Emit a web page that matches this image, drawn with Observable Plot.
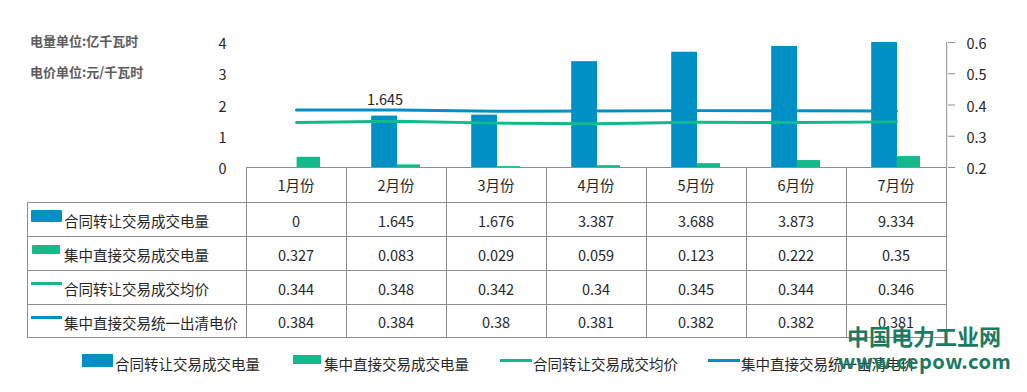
<!DOCTYPE html>
<html>
<head>
<meta charset="utf-8">
<script src="https://cdn.jsdelivr.net/npm/d3@7"></script>
<script src="https://cdn.jsdelivr.net/npm/@observablehq/plot@0.6"></script>
<style>
  html, body { margin: 0; padding: 0; background: #fff; }
  #wrap { position: relative; width: 1027px; height: 392px; overflow: hidden; font-family: "Noto Sans CJK SC", "Noto Sans", sans-serif; color: #262626; }
  #chart { position: absolute; left: 0; top: 0; }
  .abs { position: absolute; white-space: nowrap; }
  .hl { position: absolute; height: 1px; background: #8e8e8e; }
  .vl { position: absolute; width: 1px; background: #8e8e8e; }
  .cell { position: absolute; display: flex; align-items: center; justify-content: center; font-size: 14.5px; line-height: 1; }
  .unit { position: absolute; left: 30px; font-size: 13px; font-weight: bold; color: #5c5c5c; line-height: 1; }
  .lbl { position: absolute; font-size: 14.5px; line-height: 1; white-space: nowrap; }
  .wm1 { position: absolute; left: 847px; top: 324px; font-size: 22px; font-weight: bold; color: #1b7a62; line-height: 1; white-space: nowrap; }
  .wm2 { position: absolute; left: 838px; top: 351px; font-size: 20px; font-weight: bold; color: #1b7a62; line-height: 1; white-space: nowrap; letter-spacing: 0.5px; }
</style>
</head>
<body>
<div id="wrap">
  <div id="chart"></div>
</div>
<script>
// ---- data ----
const months = ["1月份", "2月份", "3月份", "4月份", "5月份", "6月份", "7月份"];
const contractVolume = [0, 1.645, 1.676, 3.387, 3.688, 3.873, 9.334];
const centralVolume = [0.327, 0.083, 0.029, 0.059, 0.123, 0.222, 0.35];
const contractPrice = [0.344, 0.348, 0.342, 0.34, 0.345, 0.344, 0.346];
const clearingPrice = [0.384, 0.384, 0.38, 0.381, 0.382, 0.382, 0.381];
const seriesNames = ["合同转让交易成交电量", "集中直接交易成交电量", "合同转让交易成交均价", "集中直接交易统一出清电价"];
const leftTicks = [0, 1, 2, 3, 4];
const rightTicks = [0.2, 0.3, 0.4, 0.5, 0.6];
const unitLabels = ["电量单位:亿千瓦时", "电价单位:元/千瓦时"];
const watermark = ["中国电力工业网", "www.cepow.com"];
const labelledMonth = "2月份";

const BLUE = "#0090c5";
const GREEN = "#12b98a";
const GREY = "#8e8e8e";

// map price (right axis) onto left-axis units
const pMin = rightTicks[0], pMax = rightTicks[rightTicks.length - 1];
const lMax = leftTicks[leftTicks.length - 1];
const toLeft = p => (p - pMin) / (pMax - pMin) * lMax;

const rows = months.map((m, i) => ({
  month: m,
  contract: contractVolume[i],
  central: centralVolume[i],
  cPrice: contractPrice[i],
  clPrice: clearingPrice[i]
}));

const chart = Plot.plot({
  width: 1027,
  height: 180,
  marginTop: 42,
  marginBottom: 13,
  marginLeft: 244,
  marginRight: 80,
  style: { fontFamily: "'Noto Sans CJK SC', 'Noto Sans', sans-serif", fontSize: "14.5px", color: "#262626", background: "transparent", overflow: "visible" },
  x: { type: "band", domain: months, padding: 0, axis: null },
  y: { domain: [0, lMax], axis: null },
  marks: [
    Plot.barY(rows, { x: "month", y: "contract", fill: BLUE, insetLeft: 25.2, insetRight: 49, clip: true }),
    Plot.barY(rows, { x: "month", y: "central", fill: GREEN, insetLeft: 50.6, insetRight: 26 }),
    Plot.line(rows, { x: "month", y: d => toLeft(d.clPrice), stroke: BLUE, strokeWidth: 3 }),
    Plot.line(rows, { x: "month", y: d => toLeft(d.cPrice), stroke: GREEN, strokeWidth: 3 }),
    Plot.text(rows.filter(d => d.month === labelledMonth), { x: "month", y: "contract", text: d => String(d.contract), dx: -11.5, dy: -16, fill: "#262626" }),
    Plot.axisY({ anchor: "left", ticks: leftTicks, tickSize: 0, tickPadding: 18, fill: "#262626", dy: 2,
      tickFormat: t => String(t) }),
    Plot.axisY({ anchor: "right", ticks: leftTicks, tickSize: 7, stroke: GREY, text: null }),
    Plot.axisY({ anchor: "right", ticks: leftTicks, tickSize: 0, tickPadding: 19, fill: "#262626", dy: 2,
      tickFormat: t => String(rightTicks[leftTicks.indexOf(t)]) }),
    Plot.ruleX([months[months.length - 1]], { dx: (1027 - 244 - 80) / months.length / 2, stroke: GREY, strokeWidth: 1 })
  ]
});
document.getElementById("chart").appendChild(chart);

// ---- table beneath, aligned on the Plot x scale ----
const wrap = document.getElementById("wrap");
const xs = chart.scale("x");
const bw = xs.bandwidth;
const x0 = xs.apply(months[0]);
const xEnd = xs.apply(months[months.length - 1]) + bw;
const tableLeft = 27;
const yTop = 167;
const rowY = [167, 202, 236, 270, 304, 337];

function add(cls, style, text) {
  const d = document.createElement("div");
  d.className = cls;
  Object.assign(d.style, style);
  if (text != null) d.textContent = text;
  wrap.appendChild(d);
  return d;
}

// horizontal lines
rowY.forEach((y, i) => {
  const left = i === 0 ? Math.round(x0) : tableLeft;
  add("hl", { left: left + "px", top: y + "px", width: (Math.round(xEnd) - left + 1) + "px" });
});
// vertical lines
add("vl", { left: tableLeft + "px", top: rowY[1] + "px", height: (rowY[5] - rowY[1] + 1) + "px" });
for (let i = 0; i <= months.length; i++) {
  const xv = Math.round(i < months.length ? xs.apply(months[i]) : xEnd);
  add("vl", { left: xv + "px", top: yTop + "px", height: (rowY[5] - yTop + 1) + "px" });
}

const tableRows = [contractVolume, centralVolume, contractPrice, clearingPrice];
// header
months.forEach(m => {
  const l = xs.apply(m);
  add("cell", { left: l + "px", top: (rowY[0] + 1) + "px", width: bw + "px", height: (rowY[1] - rowY[0]) + "px" }, m);
});
tableRows.forEach((vals, r) => {
  vals.forEach((v, i) => {
    const l = xs.apply(months[i]);
    add("cell", { left: l + "px", top: (rowY[r + 1] + 2) + "px", width: bw + "px", height: (rowY[r + 2] - rowY[r + 1]) + "px" }, String(v));
  });
});

// legend keys in table
const swatches = [
  { type: "bar", color: BLUE, h: 12, dy: 8 },
  { type: "bar", color: GREEN, h: 9, dy: 9 },
  { type: "line", color: GREEN, h: 3, dy: 12 },
  { type: "line", color: BLUE, h: 3, dy: 12 }
];
seriesNames.forEach((name, r) => {
  const s = swatches[r];
  const top = rowY[r + 1];
  add("abs", { left: (r === 1 ? 32 : 31) + "px", top: (top + s.dy) + "px", width: (r === 1 ? 28 : 31) + "px", height: s.h + "px", background: s.color, borderRadius: s.type === "bar" ? "1px" : "0" });
  add("lbl", { left: "64px", top: (top + 12) + "px" }, name);
});

// bottom legend
const legendPos = [
  { sx: 82, sw: 31, sy: 354, sh: 13, tx: 115 },
  { sx: 293, sw: 28, sy: 355, sh: 9, tx: 324 },
  { sx: 500, sw: 32, sy: 359, sh: 3, tx: 533 },
  { sx: 708, sw: 32, sy: 359, sh: 3, tx: 741 }
];
seriesNames.forEach((name, i) => {
  const p = legendPos[i];
  add("abs", { left: p.sx + "px", top: p.sy + "px", width: p.sw + "px", height: p.sh + "px", background: swatches[i].color });
  add("lbl", { left: p.tx + "px", top: "357px" }, name);
});

// unit labels
add("unit", { top: "34px" }, unitLabels[0]);
add("unit", { top: "65px" }, unitLabels[1]);

// watermark
add("wm1", {}, watermark[0]);
add("wm2", {}, watermark[1]);
</script>
</body>
</html>
